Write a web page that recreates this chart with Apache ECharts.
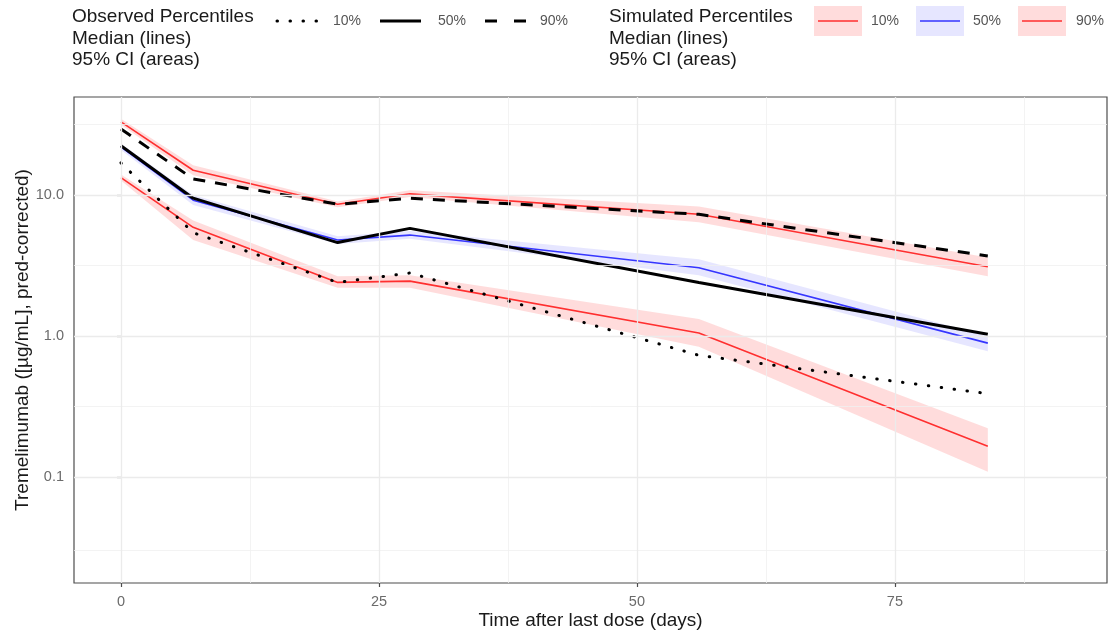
<!DOCTYPE html>
<html>
<head>
<meta charset="utf-8">
<script src="https://cdn.jsdelivr.net/npm/echarts@6/dist/echarts.min.js"></script>
<style>
  html, body { margin: 0; padding: 0; background: #ffffff; }
  #chart { width: 1113px; height: 635px; }
</style>
</head>
<body>
<div id="chart"></div>
<script>
// Sampling times (days after last dose)
const days = [0, 7, 21, 28, 56, 84];

// Observed percentiles (medians)
const obs10 = [16.9, 5.4, 2.4, 2.8, 0.73, 0.39];
const obs50 = [22.4, 9.5, 4.6, 5.8, 2.4, 1.03];
const obs90 = [29.4, 13.0, 8.6, 9.5, 7.3, 3.7];

// Simulated percentiles: median and 95% CI bounds
const sim10 = [13.3, 5.9, 2.4, 2.45, 1.05, 0.165];
const sim10Lo = [12.7, 4.8, 2.2, 2.2, 0.84, 0.109];
const sim10Hi = [14.0, 6.6, 2.65, 2.7, 1.32, 0.222];
const sim50 = [22.0, 9.2, 4.8, 5.2, 3.05, 0.89];
const sim50Lo = [20.9, 8.5, 4.5, 4.9, 2.7, 0.78];
const sim50Hi = [23.1, 10.0, 5.1, 5.55, 3.5, 1.0];
const sim90 = [33.0, 15.0, 8.6, 10.2, 7.3, 3.1];
const sim90Lo = [31.5, 13.8, 8.2, 9.7, 6.4, 2.65];
const sim90Hi = [34.7, 16.3, 9.0, 10.8, 8.3, 3.6];

// Axis breaks and grid lines
const xTicks = [0, 25, 50, 75];
const xMinorGrid = [12.5, 37.5, 62.5, 87.5];
const yTicks = [0.1, 1, 10];
const yMinorGrid = [0.0316, 0.316, 3.16, 31.6];
const legendLabels = ['10%', '50%', '90%'];

const FONT = "'Liberation Sans', Arial, Helvetica, sans-serif";
const RED = '#ff2f2f';
const BLUE = '#3535ff';
const PINK_FILL = 'rgba(255, 40, 40, 0.16)';
const BLUE_FILL = 'rgba(50, 50, 255, 0.12)';
const GRID_COLOR = '#ebebeb';

const pairs = (ys) => days.map((d, i) => [d, ys[i]]);

// Shaded confidence band drawn as one polygon through the axis scales
function band(lo, hi, fill) {
  return {
    type: 'custom',
    silent: true,
    z: 1,
    clip: true,
    data: days.map((d, i) => [d, lo[i], hi[i]]),
    encode: { x: 0, y: [1, 2] },
    renderItem(params, api) {
      if (params.dataIndex !== 0) return null;
      const upper = days.map((d, i) => api.coord([d, hi[i]]));
      const lower = days.map((d, i) => api.coord([d, lo[i]])).reverse();
      return {
        type: 'polygon',
        shape: { points: upper.concat(lower) },
        style: { fill: fill }
      };
    }
  };
}

function simLine(ys, color) {
  return {
    type: 'line', data: pairs(ys), symbol: 'none', z: 3, silent: true,
    lineStyle: { color: color, width: 1.6 }
  };
}

function obsLine(ys, type, cap) {
  return {
    type: 'line', data: pairs(ys), symbol: 'none', z: 4, silent: true,
    lineStyle: { color: '#000000', width: 3, type: type, cap: cap || 'butt' }
  };
}

// Panel grid lines (major and minor breaks)
const minorStyle = { type: 'solid', width: 0.8, color: '#f0f0f0' };
const majorStyle = { type: 'solid', width: 1.3, color: GRID_COLOR };
const gridLines = []
  .concat(xMinorGrid.map(v => ({ xAxis: v, lineStyle: minorStyle })))
  .concat(yMinorGrid.map(v => ({ yAxis: v, lineStyle: minorStyle })))
  .concat(xTicks.map(v => ({ xAxis: v, lineStyle: majorStyle })))
  .concat(yTicks.map(v => ({ yAxis: v, lineStyle: majorStyle })));

// Legend drawn with graphic elements
const legendTitleStyle = { fontSize: 19, fontFamily: FONT, fill: '#1a1a1a', verticalAlign: 'middle', align: 'left' };
const legendLabelStyle = { fontSize: 14, fontFamily: FONT, fill: '#555555', verticalAlign: 'middle', align: 'left' };
const legendTitle = (x, lines) => lines.map((t, i) => ({
  type: 'text', x: x, y: 17 + i * 21.5, silent: true,
  style: Object.assign({ text: t }, legendTitleStyle)
}));
const KEY_Y = 21;

const graphics = []
  .concat(legendTitle(72, ['Observed Percentiles', 'Median (lines)', '95% CI (areas)']))
  .concat(legendTitle(609, ['Simulated Percentiles', 'Median (lines)', '95% CI (areas)']))
  .concat([
    { type: 'line', silent: true, shape: { x1: 277, y1: KEY_Y, x2: 318, y2: KEY_Y },
      style: { stroke: '#000', lineWidth: 3, lineDash: [0.5, 12.5], lineCap: 'round' } },
    { type: 'line', silent: true, shape: { x1: 380, y1: KEY_Y, x2: 421, y2: KEY_Y },
      style: { stroke: '#000', lineWidth: 3 } },
    { type: 'line', silent: true, shape: { x1: 485, y1: KEY_Y, x2: 526, y2: KEY_Y },
      style: { stroke: '#000', lineWidth: 3, lineDash: [12, 17] } },
    { type: 'rect', silent: true, shape: { x: 814, y: 6, width: 48, height: 30 }, style: { fill: PINK_FILL } },
    { type: 'rect', silent: true, shape: { x: 916, y: 6, width: 48, height: 30 }, style: { fill: BLUE_FILL } },
    { type: 'rect', silent: true, shape: { x: 1018, y: 6, width: 48, height: 30 }, style: { fill: PINK_FILL } },
    { type: 'line', silent: true, shape: { x1: 818, y1: KEY_Y, x2: 858, y2: KEY_Y }, style: { stroke: RED, lineWidth: 1.6 } },
    { type: 'line', silent: true, shape: { x1: 920, y1: KEY_Y, x2: 960, y2: KEY_Y }, style: { stroke: BLUE, lineWidth: 1.6 } },
    { type: 'line', silent: true, shape: { x1: 1022, y1: KEY_Y, x2: 1062, y2: KEY_Y }, style: { stroke: RED, lineWidth: 1.6 } }
  ])
  .concat([333, 438, 540].map((x, i) => ({
    type: 'text', x: x, y: KEY_Y, silent: true, style: Object.assign({ text: legendLabels[i] }, legendLabelStyle)
  })))
  .concat([871, 973, 1076].map((x, i) => ({
    type: 'text', x: x, y: KEY_Y, silent: true, style: Object.assign({ text: legendLabels[i] }, legendLabelStyle)
  })));

const chart = echarts.init(document.getElementById('chart'), null, { renderer: 'canvas' });
chart.setOption({
  animation: false,
  backgroundColor: '#ffffff',
  textStyle: { fontFamily: FONT },
  grid: {
    left: 74, right: 6, top: 97, bottom: 52,
    containLabel: false, outerBoundsMode: 'none',
    show: true, borderColor: '#4d4d4d', borderWidth: 1.2, backgroundColor: '#ffffff'
  },
  graphic: graphics,
  xAxis: {
    type: 'value',
    min: -4.55, max: 95.55,
    name: 'Time after last dose (days)',
    nameLocation: 'middle', nameGap: 28, nameMoveOverlap: false,
    nameTextStyle: { fontSize: 19, color: '#1a1a1a', fontFamily: FONT },
    axisLine: { show: false },
    axisTick: { show: true, customValues: xTicks, length: 4, lineStyle: { color: '#4d4d4d', width: 1.2 } },
    axisLabel: { customValues: xTicks, color: '#6b6b6b', fontSize: 14.5, margin: 11, fontFamily: FONT },
    splitLine: { show: false }
  },
  yAxis: {
    type: 'log', logBase: 10,
    min: 0.0177, max: 49.6,
    name: 'Tremelimumab ([µg/mL], pred-corrected)',
    nameLocation: 'middle', nameGap: 42, nameMoveOverlap: false,
    nameTextStyle: { fontSize: 19, color: '#1a1a1a', fontFamily: FONT },
    axisLine: { show: false },
    axisTick: { show: true, customValues: yTicks, length: 4, lineStyle: { color: '#4d4d4d', width: 1.2 } },
    axisLabel: {
      customValues: yTicks, color: '#6b6b6b', fontSize: 14.5, margin: 10, fontFamily: FONT,
      formatter: v => Number(v).toFixed(1)
    },
    splitLine: { show: false },
    minorSplitLine: { show: false }
  },
  series: [
    {
      type: 'line', data: [], z: 0, silent: true,
      markLine: {
        silent: true, symbol: ['none', 'none'], label: { show: false },
        animation: false, data: gridLines
      }
    },
    band(sim10Lo, sim10Hi, PINK_FILL),
    band(sim50Lo, sim50Hi, BLUE_FILL),
    band(sim90Lo, sim90Hi, PINK_FILL),
    simLine(sim10, RED),
    simLine(sim50, BLUE),
    simLine(sim90, RED),
    obsLine(obs10, [0.5, 12.5], 'round'),
    obsLine(obs50, 'solid'),
    obsLine(obs90, [12, 10])
  ]
});
</script>
</body>
</html>
